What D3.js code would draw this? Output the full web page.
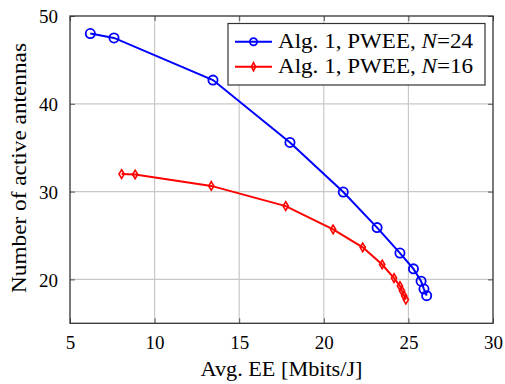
<!DOCTYPE html>
<html><head><meta charset="utf-8">
<script src="https://cdn.jsdelivr.net/npm/d3@7"></script>
<style>
html,body{margin:0;padding:0;background:#fff;}
</style></head>
<body><svg id="c" width="505" height="384"></svg>
<script>
const xTicks = [5,10,15,20,25,30];
const yTicks = [20,30,40,50];
const seriesNames = ["Alg. 1, PWEE, ", "Alg. 1, PWEE, "];
const seriesN = ["24","16"];
const blueX = [6.2,7.6,13.45,18.0,21.15,23.15,24.5,25.3,25.75,25.92,26.08];
const blueY = [48.0,47.5,42.7,35.6,29.95,25.9,23.0,21.2,19.8,18.9,18.15];
const redX = [8.05,8.85,13.35,17.75,20.55,22.3,23.45,24.15,24.5,24.62,24.75,24.85];
const redY = [32.0,31.95,30.65,28.35,25.7,23.65,21.7,20.15,19.25,18.7,18.15,17.7];

const FF = '"Liberation Serif", "Times New Roman", serif';
const svg = d3.select("#c");
const L=70,R=493,T=16,B=323.3;
const x = d3.scaleLinear().domain([5,30]).range([L,R]);
const y = d3.scaleLinear().domain([15,50]).range([B,T]);

// grid
svg.append("g").selectAll("line").data(xTicks.slice(1,-1)).join("line")
 .attr("x1",d=>x(d)).attr("x2",d=>x(d)).attr("y1",T).attr("y2",B)
 .attr("stroke","#c8c8c8").attr("stroke-width",1.2);
svg.append("g").selectAll("line").data(yTicks.filter(d=>d<50)).join("line")
 .attr("y1",d=>y(d)).attr("y2",d=>y(d)).attr("x1",L).attr("x2",R)
 .attr("stroke","#c8c8c8").attr("stroke-width",1.2);

// axes with inward ticks
const fmt = d3.format("d");
const ax = svg.append("g").attr("transform",`translate(0,${B})`)
 .call(d3.axisBottom(x).tickValues(xTicks).tickSize(-5).tickPadding(16).tickFormat(fmt));
const axT = svg.append("g").attr("transform",`translate(0,${T})`)
 .call(d3.axisTop(x).tickValues(xTicks).tickSize(-5).tickFormat(""));
const ay = svg.append("g").attr("transform",`translate(${L},0)`)
 .call(d3.axisLeft(y).tickValues(yTicks).tickSize(-5).tickPadding(12).tickFormat(fmt));
const ayR = svg.append("g").attr("transform",`translate(${R},0)`)
 .call(d3.axisRight(y).tickValues(yTicks).tickSize(-5).tickFormat(""));
[ax,axT,ay,ayR].forEach(g=>{
  g.attr("font-family",null).attr("font-size",null);
  g.select(".domain").remove();
  g.selectAll(".tick line").attr("stroke","#555").attr("stroke-width",1);
  g.selectAll(".tick text").style("font-family",FF).style("font-size","19px").attr("fill","#000");
});
ax.selectAll(".tick text").attr("dy","0.5em");
ay.selectAll(".tick text").attr("dy","0.35em");

// frame
svg.append("rect").attr("x",L).attr("y",T).attr("width",R-L).attr("height",B-T)
 .attr("fill","none").attr("stroke","#333").attr("stroke-width",1.3);

// labels
svg.append("text").attr("x",(L+R)/2).attr("y",376).attr("text-anchor","middle")
 .style("font-family",FF).style("font-size","20px").attr("textLength",162).attr("lengthAdjust","spacingAndGlyphs")
 .text("Avg. EE [Mbits/J]");
svg.append("text").attr("transform","translate(26,168) rotate(-90)").attr("text-anchor","middle")
 .style("font-family",FF).style("font-size","20px").attr("textLength",250).attr("lengthAdjust","spacingAndGlyphs")
 .text("Number of active antennas");

// lines
const line = d3.line().x(d=>x(d[0])).y(d=>y(d[1]));
const blue = blueX.map((v,i)=>[v,blueY[i]]);
const red = redX.map((v,i)=>[v,redY[i]]);
svg.append("path").datum(blue).attr("d",line).attr("fill","none").attr("stroke","#0000ff").attr("stroke-width",2);
svg.append("path").datum(red).attr("d",line).attr("fill","none").attr("stroke","#ff0000").attr("stroke-width",2);
svg.append("g").selectAll("circle").data(blue).join("circle")
 .attr("cx",d=>x(d[0])).attr("cy",d=>y(d[1])).attr("r",4.6)
 .attr("fill","none").attr("stroke","#0000ff").attr("stroke-width",1.8);
const diamond = (cx,cy)=>`M${cx},${cy-4.3}L${cx+2.6},${cy}L${cx},${cy+4.3}L${cx-2.6},${cy}Z`;
svg.append("g").selectAll("path").data(red).join("path")
 .attr("d",d=>diamond(x(d[0]),y(d[1])))
 .attr("fill","none").attr("stroke","#ff0000").attr("stroke-width",1.6);

// legend
const lg = svg.append("g");
lg.append("rect").attr("x",228).attr("y",23.5).attr("width",257).attr("height",61.5)
 .attr("fill","#fff").attr("stroke","#333").attr("stroke-width",1.2);
const rows=[{c:"#0000ff",yy:41.7,m:"c",n:seriesN[0],s:seriesNames[0]},{c:"#ff0000",yy:66.7,m:"d",n:seriesN[1],s:seriesNames[1]}];
rows.forEach(r=>{
  lg.append("line").attr("x1",235).attr("x2",272).attr("y1",r.yy).attr("y2",r.yy).attr("stroke",r.c).attr("stroke-width",2);
  if(r.m==="c") lg.append("circle").attr("cx",253.5).attr("cy",r.yy).attr("r",3.6).attr("fill","none").attr("stroke",r.c).attr("stroke-width",1.8);
  else lg.append("path").attr("d",`M253.5,${r.yy-4}L255.6,${r.yy}L253.5,${r.yy+4}L251.4,${r.yy}Z`).attr("fill","none").attr("stroke",r.c).attr("stroke-width",1.6);
  const t = lg.append("text").attr("x",278).attr("y",r.yy+6.5).style("font-family",FF).style("font-size","20px")
   .attr("textLength",195).attr("lengthAdjust","spacingAndGlyphs");
  t.append("tspan").text(r.s);
  t.append("tspan").style("font-style","italic").text("N");
  t.append("tspan").text("="+r.n);
});
</script></body></html>
